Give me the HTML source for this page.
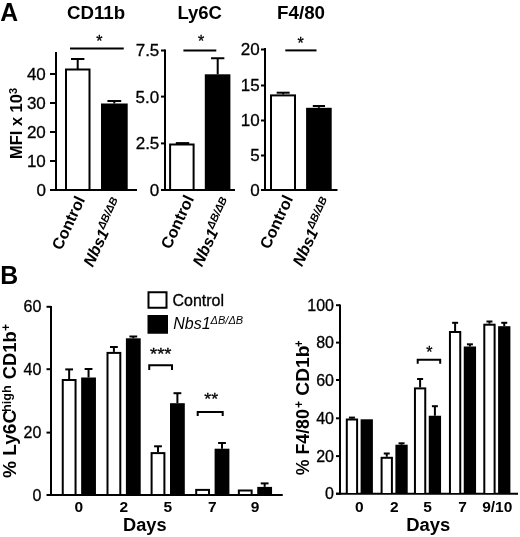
<!DOCTYPE html>
<html><head><meta charset="utf-8"><style>
html,body{margin:0;padding:0;background:#fff;}
svg{display:block;filter:grayscale(1);}
text{font-family:"Liberation Sans", sans-serif;fill:#000;}
text[font-weight="normal"]{stroke:#000;stroke-width:0.3px;}
</style></head><body>
<svg width="520" height="537" viewBox="0 0 520 537">
<rect width="520" height="537" fill="#fff"/>
<text x="0.25" y="20.50" font-size="26.5" font-weight="bold" font-style="normal" textLength="17.83" lengthAdjust="spacingAndGlyphs" >A</text>
<text x="67.07" y="19.40" font-size="18" font-weight="bold" font-style="normal" textLength="58.08" lengthAdjust="spacingAndGlyphs" >CD11b</text>
<text x="177.42" y="19.20" font-size="18" font-weight="bold" font-style="normal" textLength="44.50" lengthAdjust="spacingAndGlyphs" >Ly6C</text>
<text x="277.05" y="19.40" font-size="18" font-weight="bold" font-style="normal" textLength="48.02" lengthAdjust="spacingAndGlyphs" >F4/80</text>
<line x1="56" y1="52" x2="56" y2="191" stroke="#000" stroke-width="2"/>
<line x1="50" y1="190" x2="56" y2="190" stroke="#000" stroke-width="2"/>
<text x="36.40" y="195.95" font-size="17" font-weight="normal" font-style="normal" >0</text>
<line x1="50" y1="161" x2="56" y2="161" stroke="#000" stroke-width="2"/>
<text x="26.90" y="166.95" font-size="17" font-weight="normal" font-style="normal" >10</text>
<line x1="50" y1="132" x2="56" y2="132" stroke="#000" stroke-width="2"/>
<text x="26.90" y="137.95" font-size="17" font-weight="normal" font-style="normal" >20</text>
<line x1="50" y1="103" x2="56" y2="103" stroke="#000" stroke-width="2"/>
<text x="26.90" y="108.95" font-size="17" font-weight="normal" font-style="normal" >30</text>
<line x1="50" y1="74" x2="56" y2="74" stroke="#000" stroke-width="2"/>
<text x="26.90" y="79.95" font-size="17" font-weight="normal" font-style="normal" >40</text>
<line x1="51" y1="190" x2="137" y2="190" stroke="#000" stroke-width="2"/>
<rect x="65" y="68.5" width="25.5" height="120.5" fill="#000"/>
<rect x="67" y="70.5" width="21.5" height="118.5" fill="#fff"/>
<line x1="77.7" y1="59" x2="77.7" y2="69" stroke="#000" stroke-width="2"/>
<line x1="71.0" y1="59" x2="84.4" y2="59" stroke="#000" stroke-width="2"/>
<rect x="101" y="103.5" width="26.7" height="85.5" fill="#000"/>
<line x1="114.3" y1="101" x2="114.3" y2="103.5" stroke="#000" stroke-width="2"/>
<line x1="107.39999999999999" y1="101" x2="121.2" y2="101" stroke="#000" stroke-width="2"/>
<line x1="70" y1="48.4" x2="123.75" y2="48.4" stroke="#000" stroke-width="2"/>
<text x="96.15" y="47.10" font-size="16" font-weight="normal" font-style="normal" >*</text>
<line x1="165" y1="49.5" x2="165" y2="191" stroke="#000" stroke-width="2"/>
<line x1="161" y1="190" x2="165" y2="190" stroke="#000" stroke-width="2"/>
<text x="149.80" y="195.95" font-size="17" font-weight="normal" font-style="normal" >0</text>
<line x1="161" y1="143.4" x2="165" y2="143.4" stroke="#000" stroke-width="2"/>
<text x="135.70" y="149.35" font-size="17" font-weight="normal" font-style="normal" >2.5</text>
<line x1="161" y1="96.6" x2="165" y2="96.6" stroke="#000" stroke-width="2"/>
<text x="135.60" y="102.55" font-size="17" font-weight="normal" font-style="normal" >5.0</text>
<line x1="161" y1="50.5" x2="165" y2="50.5" stroke="#000" stroke-width="2"/>
<text x="135.70" y="56.35" font-size="17" font-weight="normal" font-style="normal" >7.5</text>
<line x1="162" y1="190" x2="235" y2="190" stroke="#000" stroke-width="2"/>
<rect x="169.1" y="143.5" width="25.5" height="45.5" fill="#000"/>
<rect x="171.1" y="145.5" width="21.5" height="43.5" fill="#fff"/>
<line x1="182.5" y1="143.1" x2="182.5" y2="143.5" stroke="#000" stroke-width="2"/>
<line x1="175.8" y1="143.1" x2="189.2" y2="143.1" stroke="#000" stroke-width="2"/>
<rect x="204.8" y="74.3" width="25.6" height="114.7" fill="#000"/>
<line x1="217.7" y1="58.25" x2="217.7" y2="74.3" stroke="#000" stroke-width="2"/>
<line x1="211.04999999999998" y1="58.25" x2="224.35" y2="58.25" stroke="#000" stroke-width="2"/>
<line x1="183.4" y1="50.4" x2="216.3" y2="50.4" stroke="#000" stroke-width="2"/>
<text x="197.90" y="47.20" font-size="16" font-weight="normal" font-style="normal" >*</text>
<line x1="265" y1="48" x2="265" y2="191" stroke="#000" stroke-width="2"/>
<line x1="261" y1="190" x2="265" y2="190" stroke="#000" stroke-width="2"/>
<text x="250.20" y="195.95" font-size="17" font-weight="normal" font-style="normal" >0</text>
<line x1="261" y1="155.5" x2="265" y2="155.5" stroke="#000" stroke-width="2"/>
<text x="250.30" y="161.35" font-size="17" font-weight="normal" font-style="normal" >5</text>
<line x1="261" y1="120.5" x2="265" y2="120.5" stroke="#000" stroke-width="2"/>
<text x="240.70" y="126.45" font-size="17" font-weight="normal" font-style="normal" >10</text>
<line x1="261" y1="85.5" x2="265" y2="85.5" stroke="#000" stroke-width="2"/>
<text x="240.80" y="91.35" font-size="17" font-weight="normal" font-style="normal" >15</text>
<line x1="261" y1="49.5" x2="265" y2="49.5" stroke="#000" stroke-width="2"/>
<text x="240.70" y="55.45" font-size="17" font-weight="normal" font-style="normal" >20</text>
<line x1="261" y1="190" x2="337.5" y2="190" stroke="#000" stroke-width="2"/>
<rect x="270" y="94.4" width="26" height="94.6" fill="#000"/>
<rect x="272" y="96.4" width="22" height="92.6" fill="#fff"/>
<line x1="283.15" y1="92.7" x2="283.15" y2="94.4" stroke="#000" stroke-width="2"/>
<line x1="276.65" y1="92.7" x2="289.65" y2="92.7" stroke="#000" stroke-width="2"/>
<rect x="306.1" y="107.8" width="25.6" height="81.2" fill="#000"/>
<line x1="318.9" y1="106" x2="318.9" y2="107.8" stroke="#000" stroke-width="2"/>
<line x1="312.79999999999995" y1="106" x2="325.0" y2="106" stroke="#000" stroke-width="2"/>
<line x1="285.3" y1="50.4" x2="316.5" y2="50.4" stroke="#000" stroke-width="2"/>
<text x="297.50" y="49.10" font-size="16" font-weight="normal" font-style="normal" >*</text>
<text transform="rotate(-90)" x="-158.98" y="22.00" font-size="16.8" font-weight="bold" font-style="normal" textLength="64.85" lengthAdjust="spacingAndGlyphs">MFI x 10</text>
<text transform="rotate(-90)" x="-94.10" y="16.90" font-size="11" font-weight="bold" font-style="normal">3</text>
<text transform="translate(85.4,199.4) rotate(-65)" font-size="16" font-weight="bold" text-anchor="end">Control</text>
<text transform="translate(194.3,198.5) rotate(-65)" font-size="16" font-weight="bold" text-anchor="end">Control</text>
<text transform="translate(293.4,198.5) rotate(-65)" font-size="16" font-weight="bold" text-anchor="end">Control</text>
<text transform="translate(123.5,201.8) rotate(-65)" font-size="16" font-weight="bold" font-style="italic" text-anchor="end">Nbs1<tspan font-size="11" dy="-6">ΔB/ΔB</tspan></text>
<text transform="translate(232.7,201.5) rotate(-65)" font-size="16" font-weight="bold" font-style="italic" text-anchor="end">Nbs1<tspan font-size="11" dy="-6">ΔB/ΔB</tspan></text>
<text transform="translate(332.7,201.3) rotate(-65)" font-size="16" font-weight="bold" font-style="italic" text-anchor="end">Nbs1<tspan font-size="11" dy="-6">ΔB/ΔB</tspan></text>
<text x="0.31" y="284.00" font-size="26.5" font-weight="bold" font-style="normal" textLength="17.94" lengthAdjust="spacingAndGlyphs" >B</text>
<line x1="51" y1="306" x2="51" y2="496" stroke="#000" stroke-width="2"/>
<line x1="46.5" y1="495" x2="51" y2="495" stroke="#000" stroke-width="2"/>
<text x="32.50" y="500.60" font-size="16" font-weight="normal" font-style="normal" >0</text>
<line x1="46.5" y1="432.6" x2="51" y2="432.6" stroke="#000" stroke-width="2"/>
<text x="23.60" y="438.20" font-size="16" font-weight="normal" font-style="normal" >20</text>
<line x1="46.5" y1="369.2" x2="51" y2="369.2" stroke="#000" stroke-width="2"/>
<text x="23.60" y="374.80" font-size="16" font-weight="normal" font-style="normal" >40</text>
<line x1="46.5" y1="306.8" x2="51" y2="306.8" stroke="#000" stroke-width="2"/>
<text x="23.60" y="312.40" font-size="16" font-weight="normal" font-style="normal" >60</text>
<line x1="47" y1="495" x2="282.75" y2="495" stroke="#000" stroke-width="2"/>
<rect x="61.75" y="379" width="14.8" height="115" fill="#000"/>
<rect x="63.75" y="381" width="10.8" height="113" fill="#fff"/>
<line x1="69.14999999999999" y1="369.4" x2="69.14999999999999" y2="379" stroke="#000" stroke-width="2"/>
<line x1="65.24999999999999" y1="369.4" x2="73.05" y2="369.4" stroke="#000" stroke-width="2"/>
<rect x="81.15" y="377.5" width="14.8" height="116.5" fill="#000"/>
<line x1="88.55" y1="369" x2="88.55" y2="377.5" stroke="#000" stroke-width="2"/>
<line x1="84.64999999999999" y1="369" x2="92.45" y2="369" stroke="#000" stroke-width="2"/>
<text x="74.60" y="512.10" font-size="15.5" font-weight="bold" font-style="normal" >0</text>
<rect x="106.5" y="351.9" width="14.8" height="142.1" fill="#000"/>
<rect x="108.5" y="353.9" width="10.8" height="140.1" fill="#fff"/>
<line x1="113.89999999999999" y1="347" x2="113.89999999999999" y2="351.9" stroke="#000" stroke-width="2"/>
<line x1="109.99999999999999" y1="347" x2="117.8" y2="347" stroke="#000" stroke-width="2"/>
<rect x="125.9" y="338.3" width="14.8" height="155.7" fill="#000"/>
<line x1="133.29999999999998" y1="336.5" x2="133.29999999999998" y2="338.3" stroke="#000" stroke-width="2"/>
<line x1="129.39999999999998" y1="336.5" x2="137.2" y2="336.5" stroke="#000" stroke-width="2"/>
<text x="119.40" y="512.10" font-size="15.5" font-weight="bold" font-style="normal" >2</text>
<rect x="150.6" y="452.1" width="14.8" height="41.9" fill="#000"/>
<rect x="152.6" y="454.1" width="10.8" height="39.9" fill="#fff"/>
<line x1="158.0" y1="446.3" x2="158.0" y2="452.1" stroke="#000" stroke-width="2"/>
<line x1="154.1" y1="446.3" x2="161.9" y2="446.3" stroke="#000" stroke-width="2"/>
<rect x="170.0" y="403.2" width="14.8" height="90.8" fill="#000"/>
<line x1="177.39999999999998" y1="393.2" x2="177.39999999999998" y2="403.2" stroke="#000" stroke-width="2"/>
<line x1="173.49999999999997" y1="393.2" x2="181.29999999999998" y2="393.2" stroke="#000" stroke-width="2"/>
<text x="163.40" y="512.10" font-size="15.5" font-weight="bold" font-style="normal" >5</text>
<rect x="195.2" y="488.9" width="14.8" height="5.1" fill="#000"/>
<rect x="197.2" y="490.9" width="10.8" height="3.1" fill="#fff"/>
<rect x="214.6" y="448.7" width="14.8" height="45.3" fill="#000"/>
<line x1="222.0" y1="443" x2="222.0" y2="448.7" stroke="#000" stroke-width="2"/>
<line x1="218.1" y1="443" x2="225.9" y2="443" stroke="#000" stroke-width="2"/>
<text x="208.05" y="512.10" font-size="15.5" font-weight="bold" font-style="normal" >7</text>
<rect x="237.85" y="489.5" width="14.8" height="4.5" fill="#000"/>
<rect x="239.85" y="491.5" width="10.8" height="2.5" fill="#fff"/>
<rect x="257.25" y="486.9" width="14.8" height="7.1" fill="#000"/>
<line x1="264.65" y1="483.4" x2="264.65" y2="486.9" stroke="#000" stroke-width="2"/>
<line x1="260.75" y1="483.4" x2="268.54999999999995" y2="483.4" stroke="#000" stroke-width="2"/>
<text x="250.75" y="512.10" font-size="15.5" font-weight="bold" font-style="normal" >9</text>
<text x="122.99" y="530.75" font-size="18" font-weight="bold" font-style="normal" textLength="43.55" lengthAdjust="spacingAndGlyphs" >Days</text>
<path d="M149.25,370 V365.3 H172 V370" fill="none" stroke="#000" stroke-width="2"/>
<text x="150.06" y="359.80" font-size="16" font-weight="normal" font-style="normal" textLength="21.47" lengthAdjust="spacingAndGlyphs" >***</text>
<path d="M197.7,416 V412 H222.7 V416" fill="none" stroke="#000" stroke-width="2"/>
<text x="204.27" y="405.20" font-size="16" font-weight="normal" font-style="normal" textLength="13.82" lengthAdjust="spacingAndGlyphs" >**</text>
<rect x="147.5" y="291.25" width="20.0" height="17.5" fill="#000"/>
<rect x="149.5" y="293.25" width="16.0" height="13.5" fill="#fff"/>
<rect x="147.5" y="315" width="20.5" height="18.75" fill="#000"/>
<text x="172.45" y="306.30" font-size="16" font-weight="normal" font-style="normal" >Control</text>
<text x="173.25" y="328.8" font-size="16" font-style="italic">Nbs1<tspan font-size="11" dy="-5">ΔB/ΔB</tspan></text>
<text transform="rotate(-90)" x="-478.10" y="16.40" font-size="19" font-weight="bold" font-style="normal" textLength="68.34" lengthAdjust="spacingAndGlyphs">% Ly6C</text>
<text transform="rotate(-90)" x="-411.90" y="10.50" font-size="12.5" font-weight="bold" font-style="normal" textLength="26.49" lengthAdjust="spacingAndGlyphs">high</text>
<text transform="rotate(-90)" x="-379.19" y="16.00" font-size="18.5" font-weight="bold" font-style="normal" textLength="48.00" lengthAdjust="spacingAndGlyphs">CD1b</text>
<text transform="rotate(-90)" x="-331.01" y="10.00" font-size="12" font-weight="bold" font-style="normal" textLength="7.13" lengthAdjust="spacingAndGlyphs">+</text>
<line x1="340" y1="304.5" x2="340" y2="494.5" stroke="#000" stroke-width="2"/>
<line x1="336" y1="493.7" x2="340" y2="493.7" stroke="#000" stroke-width="2"/>
<text x="325.10" y="499.30" font-size="16" font-weight="normal" font-style="normal" >0</text>
<line x1="336" y1="456.1" x2="340" y2="456.1" stroke="#000" stroke-width="2"/>
<text x="316.20" y="461.70" font-size="16" font-weight="normal" font-style="normal" >20</text>
<line x1="336" y1="418.3" x2="340" y2="418.3" stroke="#000" stroke-width="2"/>
<text x="316.20" y="423.90" font-size="16" font-weight="normal" font-style="normal" >40</text>
<line x1="336" y1="380" x2="340" y2="380" stroke="#000" stroke-width="2"/>
<text x="316.20" y="385.60" font-size="16" font-weight="normal" font-style="normal" >60</text>
<line x1="336" y1="342.6" x2="340" y2="342.6" stroke="#000" stroke-width="2"/>
<text x="316.20" y="348.20" font-size="16" font-weight="normal" font-style="normal" >80</text>
<line x1="336" y1="305.2" x2="340" y2="305.2" stroke="#000" stroke-width="2"/>
<text x="307.30" y="310.80" font-size="16" font-weight="normal" font-style="normal" >100</text>
<line x1="336" y1="493.7" x2="518" y2="493.7" stroke="#000" stroke-width="2"/>
<rect x="345.8" y="418.5" width="12.3" height="74.5" fill="#000"/>
<rect x="347.8" y="420.5" width="8.3" height="72.5" fill="#fff"/>
<line x1="351.95000000000005" y1="417.6" x2="351.95000000000005" y2="418.5" stroke="#000" stroke-width="2"/>
<line x1="348.95000000000005" y1="417.6" x2="354.95000000000005" y2="417.6" stroke="#000" stroke-width="2"/>
<rect x="360.6" y="419.3" width="12.3" height="73.7" fill="#000"/>
<text x="355.10" y="512.30" font-size="15.5" font-weight="bold" font-style="normal" >0</text>
<rect x="380.6" y="456.8" width="12.3" height="36.2" fill="#000"/>
<rect x="382.6" y="458.8" width="8.3" height="34.2" fill="#fff"/>
<line x1="386.75" y1="453.5" x2="386.75" y2="456.8" stroke="#000" stroke-width="2"/>
<line x1="383.75" y1="453.5" x2="389.75" y2="453.5" stroke="#000" stroke-width="2"/>
<rect x="395.4" y="444.7" width="12.3" height="48.3" fill="#000"/>
<line x1="401.54999999999995" y1="443.3" x2="401.54999999999995" y2="444.7" stroke="#000" stroke-width="2"/>
<line x1="398.54999999999995" y1="443.3" x2="404.54999999999995" y2="443.3" stroke="#000" stroke-width="2"/>
<text x="389.95" y="512.30" font-size="15.5" font-weight="bold" font-style="normal" >2</text>
<rect x="413.95" y="387.4" width="12.3" height="105.6" fill="#000"/>
<rect x="415.95" y="389.4" width="8.3" height="103.6" fill="#fff"/>
<line x1="420.1" y1="379" x2="420.1" y2="387.4" stroke="#000" stroke-width="2"/>
<line x1="417.1" y1="379" x2="423.1" y2="379" stroke="#000" stroke-width="2"/>
<rect x="428.75" y="415.75" width="12.3" height="77.25" fill="#000"/>
<line x1="434.9" y1="406.2" x2="434.9" y2="415.75" stroke="#000" stroke-width="2"/>
<line x1="431.9" y1="406.2" x2="437.9" y2="406.2" stroke="#000" stroke-width="2"/>
<text x="423.20" y="512.30" font-size="15.5" font-weight="bold" font-style="normal" >5</text>
<rect x="448.95" y="331" width="12.3" height="162" fill="#000"/>
<rect x="450.95" y="333" width="8.3" height="160" fill="#fff"/>
<line x1="455.1" y1="322.8" x2="455.1" y2="331" stroke="#000" stroke-width="2"/>
<line x1="452.1" y1="322.8" x2="458.1" y2="322.8" stroke="#000" stroke-width="2"/>
<rect x="463.75" y="346.5" width="12.3" height="146.5" fill="#000"/>
<line x1="469.9" y1="344.3" x2="469.9" y2="346.5" stroke="#000" stroke-width="2"/>
<line x1="466.9" y1="344.3" x2="472.9" y2="344.3" stroke="#000" stroke-width="2"/>
<text x="458.25" y="512.30" font-size="15.5" font-weight="bold" font-style="normal" >7</text>
<rect x="483.3" y="323.7" width="12.3" height="169.3" fill="#000"/>
<rect x="485.3" y="325.7" width="8.3" height="167.3" fill="#fff"/>
<line x1="489.45000000000005" y1="321.5" x2="489.45000000000005" y2="323.7" stroke="#000" stroke-width="2"/>
<line x1="486.45000000000005" y1="321.5" x2="492.45000000000005" y2="321.5" stroke="#000" stroke-width="2"/>
<rect x="498.1" y="326.2" width="12.3" height="166.8" fill="#000"/>
<line x1="504.25" y1="322.8" x2="504.25" y2="326.2" stroke="#000" stroke-width="2"/>
<line x1="501.25" y1="322.8" x2="507.25" y2="322.8" stroke="#000" stroke-width="2"/>
<text x="482.20" y="512.30" font-size="15.5" font-weight="bold" font-style="normal" >9/10</text>
<text x="406.27" y="530.75" font-size="18" font-weight="bold" font-style="normal" textLength="44.08" lengthAdjust="spacingAndGlyphs" >Days</text>
<path d="M417.7,363.8 V359.8 H440.2 V363.8" fill="none" stroke="#000" stroke-width="2"/>
<text x="426.15" y="357.50" font-size="16" font-weight="normal" font-style="normal" >*</text>
<text transform="rotate(-90)" x="-475.29" y="309.00" font-size="18" font-weight="bold" font-style="normal" textLength="66.12" lengthAdjust="spacingAndGlyphs">% F4/80</text>
<text transform="rotate(-90)" x="-408.01" y="303.00" font-size="12" font-weight="bold" font-style="normal" textLength="7.13" lengthAdjust="spacingAndGlyphs">+</text>
<text transform="rotate(-90)" x="-395.71" y="309.40" font-size="19" font-weight="bold" font-style="normal" textLength="50.14" lengthAdjust="spacingAndGlyphs">CD1b</text>
<text transform="rotate(-90)" x="-346.97" y="302.50" font-size="12" font-weight="bold" font-style="normal" textLength="6.53" lengthAdjust="spacingAndGlyphs">+</text>
</svg>
</body></html>
